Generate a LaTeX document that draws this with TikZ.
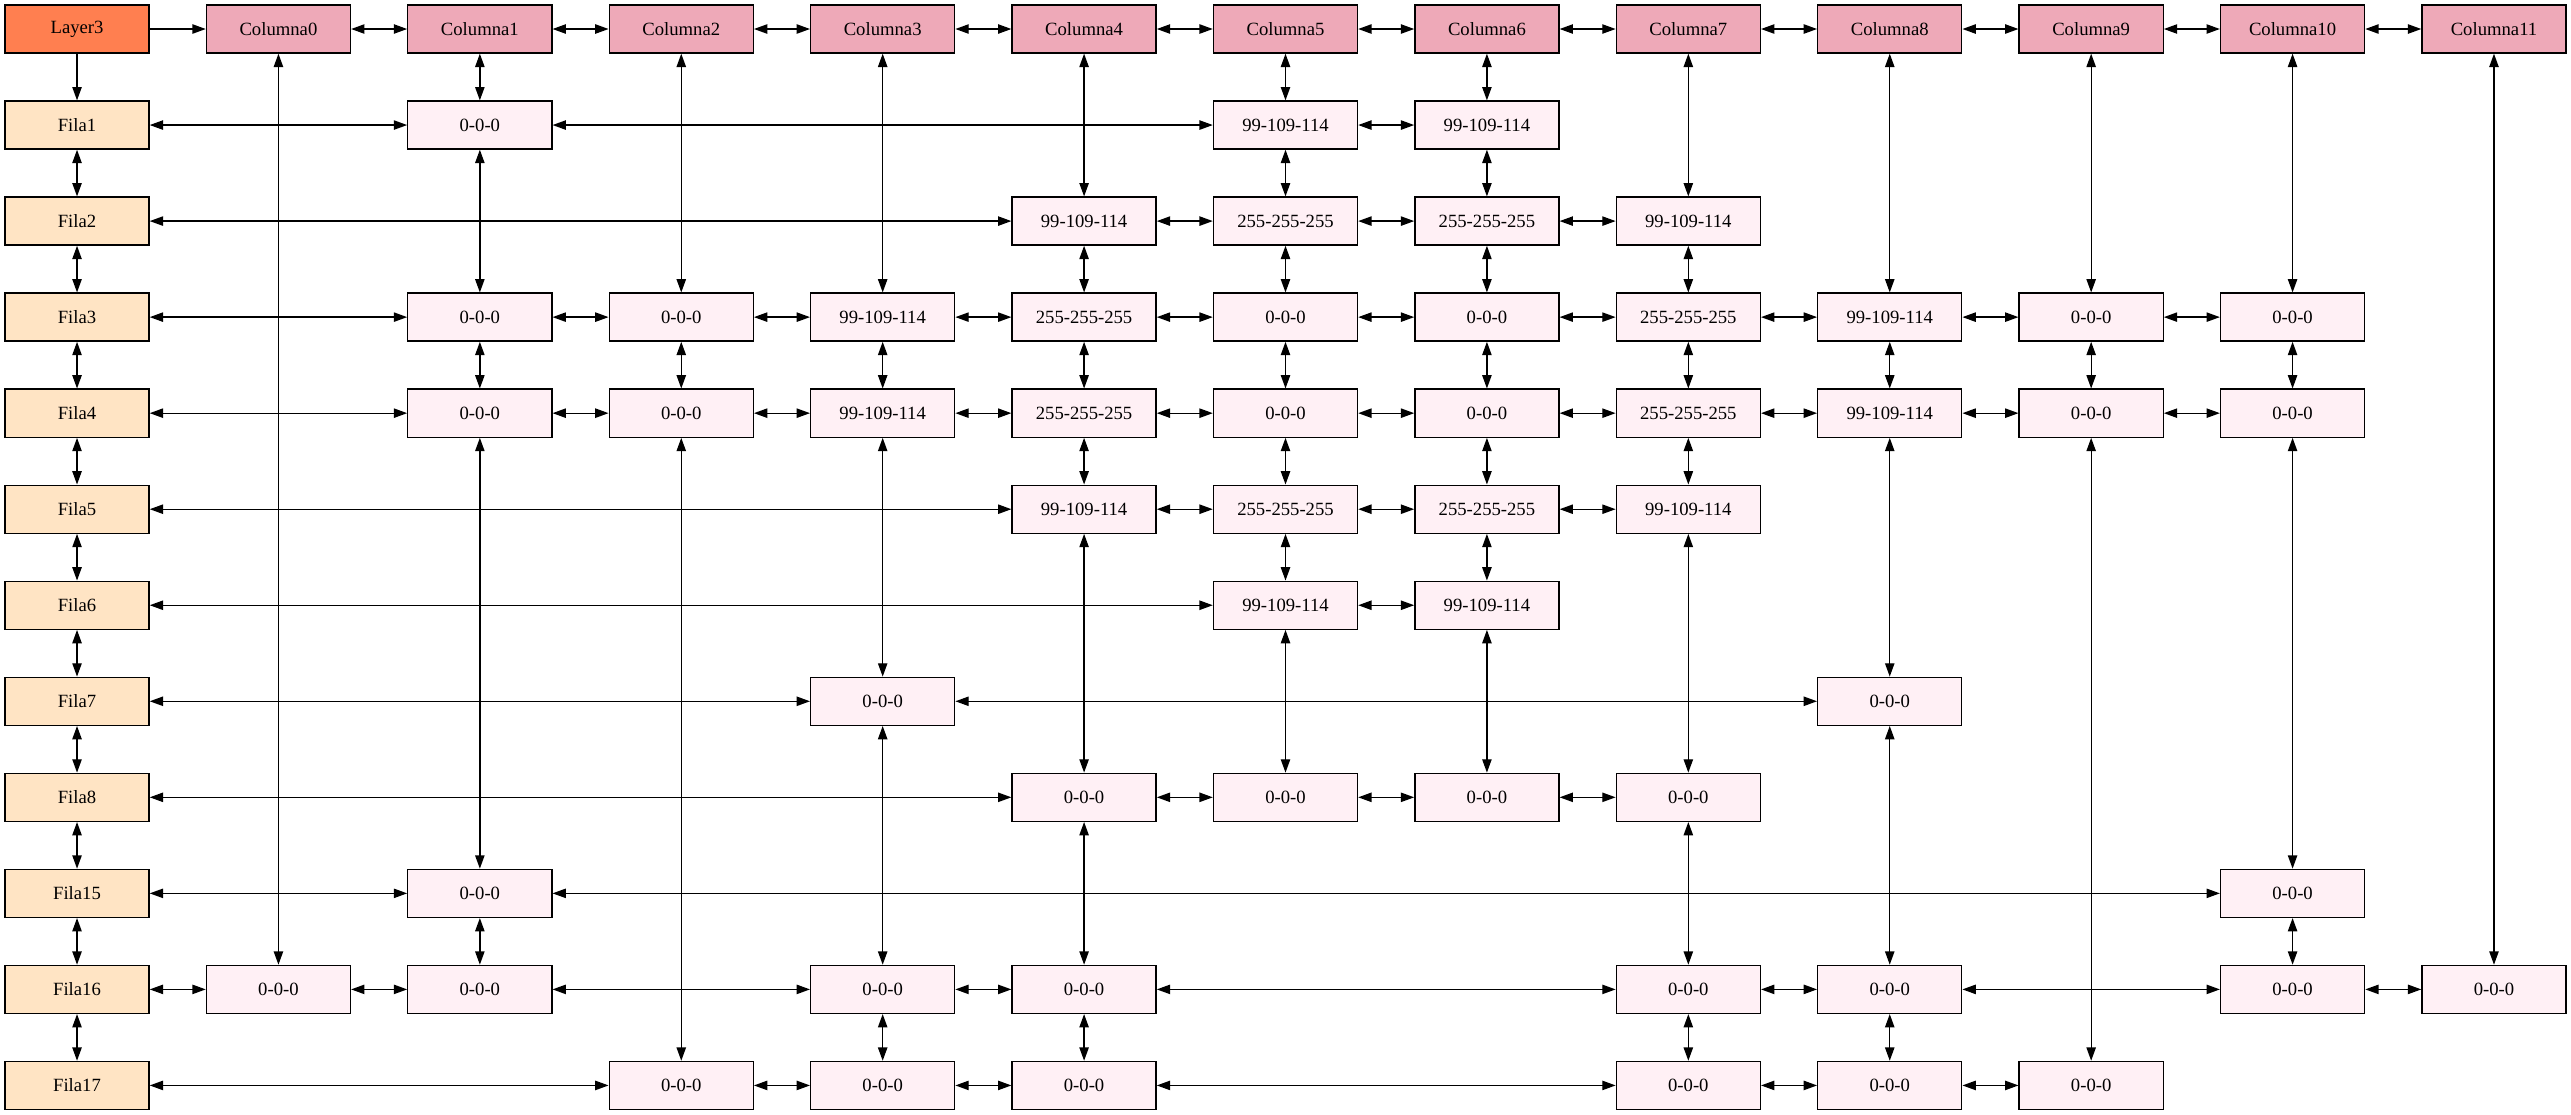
\documentclass[tikz,border=0pt]{standalone}
\usepackage{fontspec}
\setmainfont{Liberation Serif}
\usetikzlibrary{arrows.meta}
\definecolor{coral}{HTML}{FF7F50}
\definecolor{pinktwo}{HTML}{EEA9B8}
\definecolor{bisque}{HTML}{FFE4C4}
\definecolor{lavblush}{HTML}{FFF0F5}
\tikzset{
    mynode/.style = {rectangle, line width=1pt, draw=black, align=center, minimum width=108pt, minimum height=36pt, inner sep=0pt, fill=lavblush, font=\fontsize{14}{16}\selectfont},
    mynodeo/.style = {mynode, fill=coral},   % layer
    mynodep/.style = {mynode, fill=pinktwo}, % columns
    mynodey/.style = {mynode, fill=bisque},  % rows
    edgen/.style = {{Triangle[length=10pt,width=7pt]}-{Triangle[length=10pt,width=7pt]}, line width=1pt},
    edges/.style = {-{Triangle[length=10pt,width=7pt]}, line width=1pt}
}

\begin{document}
\begin{tikzpicture}[x=151pt, y=-72pt]
\useasboundingbox (-57.75pt,21.75pt) rectangle (1869.75pt,-813.75pt);
% header
\node[mynodeo] at (0, 0) (layer3) {Layer3};
\node[mynodep] at (1, 0) (c0) {Columna0};
\node[mynodep] at (2, 0) (c1) {Columna1};
\node[mynodep] at (3, 0) (c2) {Columna2};
\node[mynodep] at (4, 0) (c3) {Columna3};
\node[mynodep] at (5, 0) (c4) {Columna4};
\node[mynodep] at (6, 0) (c5) {Columna5};
\node[mynodep] at (7, 0) (c6) {Columna6};
\node[mynodep] at (8, 0) (c7) {Columna7};
\node[mynodep] at (9, 0) (c8) {Columna8};
\node[mynodep] at (10, 0) (c9) {Columna9};
\node[mynodep] at (11, 0) (c10) {Columna10};
\node[mynodep] at (12, 0) (c11) {Columna11};
%
\node[mynodey] at (0, 1) (f1) {Fila1};
\node[mynodey] at (0, 2) (f2) {Fila2};
\node[mynodey] at (0, 3) (f3) {Fila3};
\node[mynodey] at (0, 4) (f4) {Fila4};
\node[mynodey] at (0, 5) (f5) {Fila5};
\node[mynodey] at (0, 6) (f6) {Fila6};
\node[mynodey] at (0, 7) (f7) {Fila7};
\node[mynodey] at (0, 8) (f8) {Fila8};
\node[mynodey] at (0, 9) (f15) {Fila15};
\node[mynodey] at (0, 10) (f16) {Fila16};
\node[mynodey] at (0, 11) (f17) {Fila17};
% cells
\node[mynode] at (2, 1) (f1c1) {0-0-0};
\node[mynode] at (6, 1) (f1c5) {99-109-114};
\node[mynode] at (7, 1) (f1c6) {99-109-114};
%
\node[mynode] at (5, 2) (f2c4) {99-109-114};
\node[mynode] at (6, 2) (f2c5) {255-255-255};
\node[mynode] at (7, 2) (f2c6) {255-255-255};
\node[mynode] at (8, 2) (f2c7) {99-109-114};
%
\node[mynode] at (2, 3) (f3c1) {0-0-0};
\node[mynode] at (3, 3) (f3c2) {0-0-0};
\node[mynode] at (4, 3) (f3c3) {99-109-114};
\node[mynode] at (5, 3) (f3c4) {255-255-255};
\node[mynode] at (6, 3) (f3c5) {0-0-0};
\node[mynode] at (7, 3) (f3c6) {0-0-0};
\node[mynode] at (8, 3) (f3c7) {255-255-255};
\node[mynode] at (9, 3) (f3c8) {99-109-114};
\node[mynode] at (10, 3) (f3c9) {0-0-0};
\node[mynode] at (11, 3) (f3c10) {0-0-0};
%
\node[mynode] at (2, 4) (f4c1) {0-0-0};
\node[mynode] at (3, 4) (f4c2) {0-0-0};
\node[mynode] at (4, 4) (f4c3) {99-109-114};
\node[mynode] at (5, 4) (f4c4) {255-255-255};
\node[mynode] at (6, 4) (f4c5) {0-0-0};
\node[mynode] at (7, 4) (f4c6) {0-0-0};
\node[mynode] at (8, 4) (f4c7) {255-255-255};
\node[mynode] at (9, 4) (f4c8) {99-109-114};
\node[mynode] at (10, 4) (f4c9) {0-0-0};
\node[mynode] at (11, 4) (f4c10) {0-0-0};
%
\node[mynode] at (5, 5) (f5c4) {99-109-114};
\node[mynode] at (6, 5) (f5c5) {255-255-255};
\node[mynode] at (7, 5) (f5c6) {255-255-255};
\node[mynode] at (8, 5) (f5c7) {99-109-114};
%
\node[mynode] at (6, 6) (f6c5) {99-109-114};
\node[mynode] at (7, 6) (f6c6) {99-109-114};
%
\node[mynode] at (4, 7) (f7c3) {0-0-0};
\node[mynode] at (9, 7) (f7c8) {0-0-0};
%
\node[mynode] at (5, 8) (f8c4) {0-0-0};
\node[mynode] at (6, 8) (f8c5) {0-0-0};
\node[mynode] at (7, 8) (f8c6) {0-0-0};
\node[mynode] at (8, 8) (f8c7) {0-0-0};
%
\node[mynode] at (2, 9) (f15c1) {0-0-0};
\node[mynode] at (11, 9) (f15c10) {0-0-0};
%
\node[mynode] at (1, 10) (f16c0) {0-0-0};
\node[mynode] at (2, 10) (f16c1) {0-0-0};
\node[mynode] at (4, 10) (f16c3) {0-0-0};
\node[mynode] at (5, 10) (f16c4) {0-0-0};
\node[mynode] at (8, 10) (f16c7) {0-0-0};
\node[mynode] at (9, 10) (f16c8) {0-0-0};
\node[mynode] at (11, 10) (f16c10) {0-0-0};
\node[mynode] at (12, 10) (f16c11) {0-0-0};
%
\node[mynode] at (3, 11) (f17c2) {0-0-0};
\node[mynode] at (4, 11) (f17c3) {0-0-0};
\node[mynode] at (5, 11) (f17c4) {0-0-0};
\node[mynode] at (8, 11) (f17c7) {0-0-0};
\node[mynode] at (9, 11) (f17c8) {0-0-0};
\node[mynode] at (10, 11) (f17c9) {0-0-0};
% header links
\draw[edges] (layer3) edge (c0) (layer3) edge (f1);
\draw[edgen] (c0) edge (c1) (c1) edge (c2) (c2) edge (c3) (c3) edge (c4) (c4) edge (c5) (c5) edge (c6);
\draw[edgen] (c6) edge (c7) (c7) edge (c8) (c8) edge (c9) (c9) edge (c10) (c10) edge (c11);
\draw[edgen] (f1) edge (f2) (f2) edge (f3) (f3) edge (f4) (f4) edge (f5) (f5) edge (f6);
\draw[edgen] (f6) edge (f7) (f7) edge (f8) (f8) edge (f15) (f15) edge (f16) (f16) edge (f17);
% rows
\draw[edgen] (f1) edge (f1c1) (f1c1) edge (f1c5) (f1c5) edge (f1c6);
\draw[edgen] (f2) edge (f2c4) (f2c4) edge (f2c5) (f2c5) edge (f2c6) (f2c6) edge (f2c7);
\draw[edgen] (f3) edge (f3c1) (f3c1) edge (f3c2) (f3c2) edge (f3c3) (f3c3) edge (f3c4) (f3c4) edge (f3c5);
\draw[edgen] (f3c5) edge (f3c6) (f3c6) edge (f3c7) (f3c7) edge (f3c8) (f3c8) edge (f3c9) (f3c9) edge (f3c10);
\draw[edgen] (f4) edge (f4c1) (f4c1) edge (f4c2) (f4c2) edge (f4c3) (f4c3) edge (f4c4) (f4c4) edge (f4c5);
\draw[edgen] (f4c5) edge (f4c6) (f4c6) edge (f4c7) (f4c7) edge (f4c8) (f4c8) edge (f4c9) (f4c9) edge (f4c10);
\draw[edgen] (f5) edge (f5c4) (f5c4) edge (f5c5) (f5c5) edge (f5c6) (f5c6) edge (f5c7);
\draw[edgen] (f6) edge (f6c5) (f6c5) edge (f6c6);
\draw[edgen] (f7) edge (f7c3) (f7c3) edge (f7c8);
\draw[edgen] (f8) edge (f8c4) (f8c4) edge (f8c5) (f8c5) edge (f8c6) (f8c6) edge (f8c7);
\draw[edgen] (f15) edge (f15c1) (f15c1) edge (f15c10);
\draw[edgen] (f16) edge (f16c0) (f16c0) edge (f16c1) (f16c1) edge (f16c3) (f16c3) edge (f16c4);
\draw[edgen] (f16c4) edge (f16c7) (f16c7) edge (f16c8) (f16c8) edge (f16c10) (f16c10) edge (f16c11);
\draw[edgen] (f17) edge (f17c2) (f17c2) edge (f17c3) (f17c3) edge (f17c4) (f17c4) edge (f17c7);
\draw[edgen] (f17c7) edge (f17c8) (f17c8) edge (f17c9);
% columns
\draw[edgen] (c0) edge (f16c0);
\draw[edgen] (c1) edge (f1c1) (f1c1) edge (f3c1) (f3c1) edge (f4c1) (f4c1) edge (f15c1) (f15c1) edge (f16c1);
\draw[edgen] (c2) edge (f3c2) (f3c2) edge (f4c2) (f4c2) edge (f17c2);
\draw[edgen] (c3) edge (f3c3) (f3c3) edge (f4c3) (f4c3) edge (f7c3) (f7c3) edge (f16c3) (f16c3) edge (f17c3);
\draw[edgen] (c4) edge (f2c4) (f2c4) edge (f3c4) (f3c4) edge (f4c4) (f4c4) edge (f5c4);
\draw[edgen] (f5c4) edge (f8c4) (f8c4) edge (f16c4) (f16c4) edge (f17c4);
\draw[edgen] (c5) edge (f1c5) (f1c5) edge (f2c5) (f2c5) edge (f3c5) (f3c5) edge (f4c5);
\draw[edgen] (f4c5) edge (f5c5) (f5c5) edge (f6c5) (f6c5) edge (f8c5);
\draw[edgen] (c6) edge (f1c6) (f1c6) edge (f2c6) (f2c6) edge (f3c6) (f3c6) edge (f4c6);
\draw[edgen] (f4c6) edge (f5c6) (f5c6) edge (f6c6) (f6c6) edge (f8c6);
\draw[edgen] (c7) edge (f2c7) (f2c7) edge (f3c7) (f3c7) edge (f4c7) (f4c7) edge (f5c7);
\draw[edgen] (f5c7) edge (f8c7) (f8c7) edge (f16c7) (f16c7) edge (f17c7);
\draw[edgen] (c8) edge (f3c8) (f3c8) edge (f4c8) (f4c8) edge (f7c8) (f7c8) edge (f16c8) (f16c8) edge (f17c8);
\draw[edgen] (c9) edge (f3c9) (f3c9) edge (f4c9) (f4c9) edge (f17c9);
\draw[edgen] (c10) edge (f3c10) (f3c10) edge (f4c10) (f4c10) edge (f15c10) (f15c10) edge (f16c10);
\draw[edgen] (c11) edge (f16c11);
\end{tikzpicture}
\end{document}
